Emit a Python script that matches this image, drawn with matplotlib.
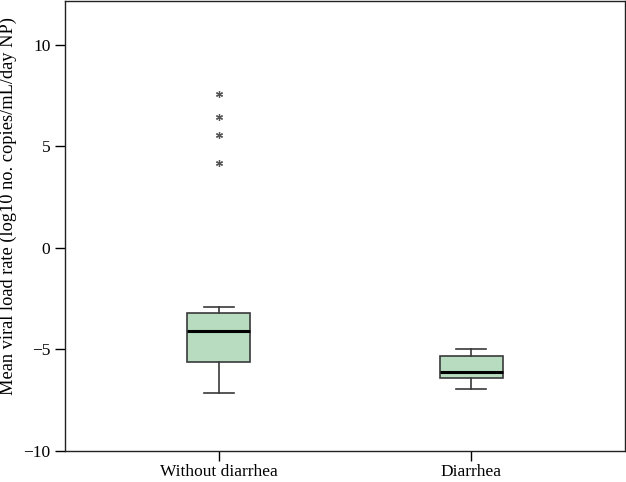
import matplotlib
matplotlib.use("Agg")
import matplotlib.pyplot as plt

plt.rcParams['font.family'] = ['Liberation Serif', 'DejaVu Serif']

groups = ["Without diarrhea", "Diarrhea"]
q1 = [-5.60, -6.42]
med = [-4.08, -6.09]
q3 = [-3.19, -5.34]
whislo = [-7.13, -6.96]
whishi = [-2.90, -4.96]
fliers = [[4.16, 5.55, 6.45, 7.58], []]

stats = []
for i in range(len(groups)):
    stats.append(dict(label=groups[i], q1=q1[i], med=med[i], q3=q3[i],
                      whislo=whislo[i], whishi=whishi[i], fliers=fliers[i]))

fig = plt.figure(figsize=(6.26, 4.82), dpi=100)
ax = fig.add_axes([65/626, 1-451/482, 560/626, 450/482])

edge = '#3a3a3a'
ax.bxp(stats, positions=[1, 2], widths=0.25, patch_artist=True,
       boxprops=dict(facecolor='#b7dcbf', edgecolor=edge, linewidth=1.2),
       medianprops=dict(color='black', linewidth=2.2),
       whiskerprops=dict(color=edge, linewidth=1.2),
       capprops=dict(color=edge, linewidth=1.2),
       flierprops=dict(marker=(6, 2, 0), markersize=5, markeredgecolor='#555555',
                       markeredgewidth=0.9, linestyle='none'),
       capwidths=0.12)

ax.set_xlim(0.389, 2.611)
ax.set_ylim(-10, 12.16)
ax.set_yticks([-10, -5, 0, 5, 10])
ax.set_yticklabels(['\u221210', '\u22125', '0', '5', '10'])
ax.set_xticks([1, 2])
ax.set_xticklabels(groups)
ax.tick_params(axis='both', direction='out', length=7, width=1.0, labelsize=12.5, colors='black')
ax.tick_params(axis='x', pad=2)
for s in ax.spines.values():
    s.set_linewidth(1.0)
    s.set_color('#222222')
ax.set_ylabel("Mean viral load rate (log10 no. copies/mL/day NP)", fontsize=13.2,
              va='center')
ax.yaxis.set_label_coords(-57/560, 0.545)

fig.savefig("out.png", dpi=100)
